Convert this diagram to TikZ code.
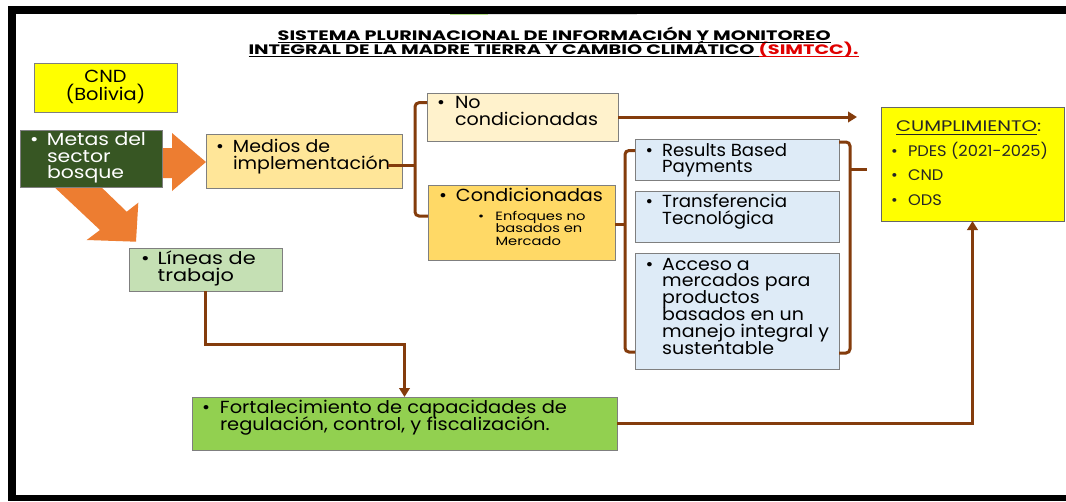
\documentclass[tikz,border=0pt]{standalone}
\usepackage{fontspec}
\usepackage{graphicx}
\usetikzlibrary{arrows.meta}
\newfontfamily\bodyfont{Poppins}
\newfontfamily\titlefont{Poppins}
\definecolor{brn}{HTML}{843C0C}
\definecolor{orng}{HTML}{ED7D31}
\definecolor{dgreen}{HTML}{375623}
\definecolor{medc}{HTML}{FFE699}
\definecolor{noc}{HTML}{FFF2CC}
\definecolor{conc}{HTML}{FFD966}
\definecolor{bluec}{HTML}{DEEBF7}
\definecolor{linc}{HTML}{C5E0B4}
\definecolor{fortc}{HTML}{92D050}
\definecolor{yel}{HTML}{FFFF00}
\definecolor{titred}{HTML}{E00000}
\definecolor{bord}{HTML}{7F7F7F}
\newsavebox\tTa
\newsavebox\tTb
\newsavebox\tTc
\newsavebox\measbox
\newlength\mylen
\newlength\bind
\newcommand\bsz{\fontsize{17.5pt}{17pt}\selectfont}
\newcommand\calib[3]{\sbox\measbox{#3}\setlength\mylen{\wd\measbox}\pgfmathsetmacro#1{#2/\mylen}}
\newcommand\blines[5]{\pgfmathsetlength\bind{#4/#1}\scalebox{#1}[1]{\fontsize{#2}{#3}\selectfont\vtop{\baselineskip=#3\relax\lineskiplimit=-\maxdimen #5}}}
\newcommand\bl[1]{\hbox{\makebox[\bind][l]{\textbullet}#1}}
\newcommand\cl[1]{\hbox{\hspace*{\bind}#1}}
\begin{document}%
\calib\sMet{99}{\bodyfont\bsz Metas del}%
\calib\sMed{157}{\bodyfont\bsz implementación}%
\calib\sNoc{143}{\bodyfont\bsz condicionadas}%
\calib\sCon{147}{\bodyfont\bsz Condicionadas}%
\calib\sEnf{90}{\bodyfont\fontsize{12pt}{12pt}\selectfont Enfoques no}%
\calib\sRes{125}{\bodyfont\bsz Results Based}%
\calib\sTra{125}{\bodyfont\bsz Transferencia}%
\calib\sAcc{167}{\bodyfont\bsz manejo integral y}%
\calib\sLin{98}{\bodyfont\bsz Líneas de}%
\calib\sFor{347}{\bodyfont\bsz Fortalecimiento de capacidades de}%
\calib\sCnd{80}{\bodyfont\bsz (Bolivia)}%
\calib\sCum{141}{\bodyfont\fontsize{15.3pt}{16pt}\selectfont CUMPLIMIENTO}%
\calib\sPde{140}{\bodyfont\fontsize{15.3pt}{16pt}\selectfont PDES (2021-2025)}%
\sbox\tTa{\titlefont\bfseries\fontsize{13.7pt}{14pt}\selectfont SISTEMA PLURINACIONAL DE INFORMACIÓN Y MONITOREO}%
\sbox\tTb{\titlefont\bfseries\fontsize{13.7pt}{14pt}\selectfont INTEGRAL DE LA MADRE TIERRA Y CAMBIO CLIMÁTICO\ }%
\sbox\tTc{\titlefont\bfseries\fontsize{13.7pt}{14pt}\selectfont\color{titred}(SIMTCC).}%
\setlength\mylen{\wd\tTa}\pgfmathsetmacro\sTa{553/\mylen}%
\setlength\mylen{\wd\tTb}\addtolength\mylen{\wd\tTc}\pgfmathsetmacro\sTb{610/\mylen}%
\begin{tikzpicture}[x=1pt,y=-1pt,
 box/.style={draw=bord, line width=0.8pt, inner sep=0pt, outer sep=0pt, anchor=north west},
 txt/.style={inner sep=0pt, outer sep=0pt, anchor=base west, font=\bodyfont},
 ttl/.style={inner sep=0pt, outer sep=0pt, anchor=base west},
 conn/.style={draw=brn, line width=3pt},
 arr/.style={-{Triangle[length=9pt,width=10.5pt]}}]
% canvas
\useasboundingbox (0,0) rectangle (1066,501);
\fill[white] (0,0) rectangle (1066,501);
\fill[black] (8,6) rectangle (1066,14);
\fill[black] (8,6) rectangle (16,501);
\fill[black] (8,495) rectangle (1066,501);
\draw[line width=1.2pt, color=fortc!70!white] (450,14.6) -- (488,14.6);
\draw[line width=1.2pt, color=black!12] (488,14.6) -- (637,14.6);
% orange arrows
\fill[orng] (158,148) -- (172,148) -- (172,133) -- (206,162) -- (172,191) -- (172,178) -- (158,178) -- cycle;
\fill[orng] (50,183) -- (97,183) -- (126.7,211.7) -- (138.3,202.7) -- (136,241.7) -- (86.7,240) -- (100,230) -- cycle;
% boxes
\node[box, fill=yel, minimum width=143pt, minimum height=49pt] (cnd) at (34,63) {};
\node[box, fill=dgreen, minimum width=142pt, minimum height=57pt] (metas) at (20,130) {};
\node[box, fill=medc, minimum width=196pt, minimum height=54pt] (med) at (206,134) {};
\node[box, fill=noc, minimum width=191pt, minimum height=48pt] (nocond) at (427,93) {};
\node[box, fill=conc, minimum width=187pt, minimum height=75pt] (cond) at (428,185) {};
\node[box, fill=bluec, minimum width=204pt, minimum height=41pt] (res) at (635,139) {};
\node[box, fill=bluec, minimum width=204pt, minimum height=51pt] (tra) at (635,191) {};
\node[box, fill=bluec, minimum width=204pt, minimum height=116pt] (acc) at (635,253) {};
\node[box, fill=yel, draw=black!60, minimum width=183pt, minimum height=114pt] (cump) at (881,107) {};
\node[box, fill=linc, minimum width=153pt, minimum height=43pt] (lin) at (129,248) {};
\node[box, fill=fortc, minimum width=425pt, minimum height=53pt] (fort) at (192,397) {};
% title
\node[ttl] (t1) at (277.7,40) {\scalebox{\sTa}[1]{\usebox\tTa}};
\node[ttl] (t2) at (248.5,54) {\scalebox{\sTb}[1]{\usebox\tTb}};
\node[ttl, text=titred] (t3) at (t2.base east) {\scalebox{\sTb}[1]{\usebox\tTc}};
\draw[line width=1.2pt] ([yshift=-2.4pt]t1.base west) -- ([yshift=-2.4pt]t1.base east);
\draw[line width=1.2pt] ([yshift=-2.6pt]t2.base west) -- ([yshift=-2.6pt]t2.base east);
\draw[line width=1.2pt, titred] ([yshift=-2.6pt]t3.base west) -- ([yshift=-2.6pt]t3.base east);
% texts
\node[txt, anchor=base] (cndT) at (105.5,82.7) {\scalebox{\sCnd}[1]{\bsz\vtop{\baselineskip=17.3pt\lineskiplimit=-\maxdimen\hbox to 0pt{\hss CND\hss}\hbox to 0pt{\hss(Bolivia)\hss}}}};
\node[txt, text=white] (metasT) at (30,145.7) {\blines{\sMet}{17.5pt}{16.5pt}{17}{\bl{Metas del}\cl{sector}\cl{bosque}}};
\node[txt] (medT) at (216,152.3) {\blines{\sMed}{17.5pt}{16.7pt}{17}{\bl{Medios de}\cl{implementación}}};
\node[txt] (nocT) at (437,108) {\blines{\sNoc}{17.5pt}{17pt}{18}{\bl{No}\cl{condicionadas}}};
\node[txt] (conT) at (439,201.7) {\blines{\sCon}{17.5pt}{17pt}{17}{\bl{Condicionadas}}};
\node[txt] (enfT) at (478,220) {\blines{\sEnf}{12pt}{12.5pt}{17.5}{\bl{Enfoques no}\cl{basados en}\cl{Mercado}}};
\node[txt] (resT) at (645.5,156) {\blines{\sRes}{17.5pt}{16.7pt}{16.7}{\bl{Results Based}\cl{Payments}}};
\node[txt] (traT) at (645.5,207.3) {\blines{\sTra}{17.5pt}{16.7pt}{16.7}{\bl{Transferencia}\cl{Tecnológica}}};
\node[txt] (accT) at (645.5,270) {\blines{\sAcc}{17.5pt}{16.8pt}{16.7}{\bl{Acceso a}\cl{mercados para}\cl{productos}\cl{basados en un}\cl{manejo integral y}\cl{sustentable}}};
\node[txt] (linT) at (141,264.3) {\blines{\sLin}{17.5pt}{16.7pt}{16.7}{\bl{Líneas de}\cl{trabajo}}};
\node[txt] (fortT) at (202,413.3) {\blines{\sFor}{17.5pt}{17.4pt}{18}{\bl{Fortalecimiento de capacidades de}\cl{regulación, control, y fiscalización.}}};
\node[txt, text=black!85] (cumT) at (896,131.7) {\scalebox{\sCum}[1]{\fontsize{15.3pt}{16pt}\selectfont CUMPLIMIENTO}};
\node[txt, text=black!85] (cumC) at (cumT.base east) {\scalebox{\sCum}[1]{\fontsize{15.3pt}{16pt}\selectfont :}};
\draw[black!85, line width=1.3pt] ([yshift=-2.6pt]cumT.base west) -- ([yshift=-2.6pt]cumT.base east);
\node[txt, text=black!85] (cumL) at (891,156.7) {\blines{\sPde}{15.3pt}{24.2pt}{17}{\bl{PDES (2021-2025)}\bl{CND}\bl{ODS}}};
% connectors
\coordinate (noend) at (857,117);
\draw[conn, arr] (nocond.east) -- (noend);
\coordinate (b1) at (415,165);
\draw[conn] ([xshift=-14pt,yshift=-4pt]med.east) -- (b1);
\draw[conn, rounded corners=4pt] ([yshift=14.3pt]nocond.west) -| (b1) |- ([yshift=6.5pt]cond.west);
\coordinate (b2) at (625,224);
\draw[conn] ([yshift=-1.5pt]cond.east) -- (b2);
\draw[conn, rounded corners=4pt] ([yshift=9pt]res.west) -| (b2) |- ([yshift=-41pt]acc.west);
\coordinate (b3) at (850,169);
\coordinate (b3e) at (867,169);
\draw[conn, rounded corners=4pt] ([yshift=17.5pt]res.east) -| (b3) |- ([yshift=-42pt]acc.east);
\draw[conn] (b3) -- (b3e);
\coordinate (l1) at (300,344);
\draw[conn, arr] (lin.south) |- (l1) -| (fort.north);
\draw[conn, arr] (fort.east) -| (cump.south);
\end{tikzpicture}%
\end{document}
